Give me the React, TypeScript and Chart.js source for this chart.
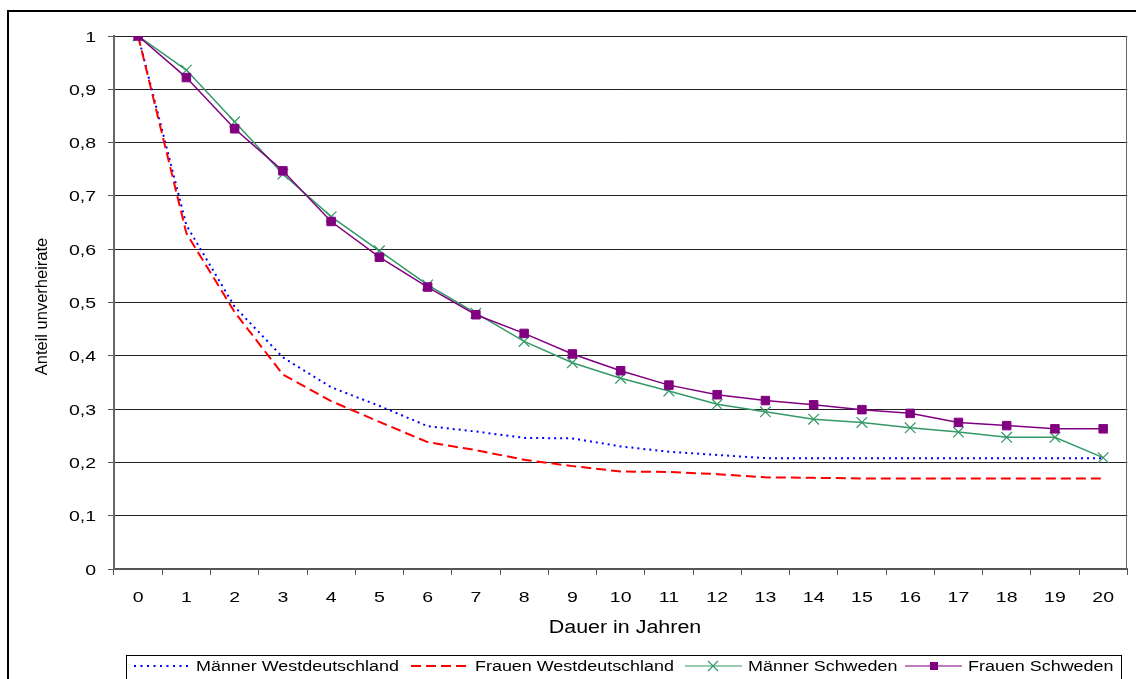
import React, { useEffect, useRef } from 'react';
import { Chart, registerables } from 'chart.js';

Chart.register(...registerables);

// ---------- DATA ----------
const categories = ['0', '1', '2', '3', '4', '5', '6', '7', '8', '9', '10', '11', '12', '13', '14', '15', '16', '17', '18', '19', '20'];
const yTickLabels = ['0', '0,1', '0,2', '0,3', '0,4', '0,5', '0,6', '0,7', '0,8', '0,9', '1'];

const maennerWest = [1, 0.645, 0.492, 0.397, 0.341, 0.306, 0.268, 0.258, 0.246, 0.245, 0.23, 0.22, 0.214, 0.208, 0.208, 0.208, 0.208, 0.208, 0.208, 0.208, 0.208];
const frauenWest = [1, 0.63, 0.482, 0.365, 0.315, 0.276, 0.238, 0.223, 0.205, 0.193, 0.183, 0.182, 0.178, 0.172, 0.171, 0.17, 0.17, 0.17, 0.17, 0.17, 0.17];
const maennerSchweden = [1, 0.936, 0.839, 0.741, 0.661, 0.597, 0.533, 0.48, 0.427, 0.387, 0.358, 0.334, 0.309, 0.295, 0.281, 0.275, 0.265, 0.257, 0.247, 0.247, 0.209];
const frauenSchweden = [1, 0.922, 0.826, 0.747, 0.652, 0.585, 0.529, 0.477, 0.442, 0.4035, 0.372, 0.345, 0.327, 0.316, 0.308, 0.299, 0.292, 0.275, 0.269, 0.263, 0.263];

const seriesNames = ['Männer Westdeutschland', 'Frauen Westdeutschland', 'Männer Schweden', 'Frauen Schweden'];
const xTitle = 'Dauer in Jahren';
const yTitle = 'Anteil unverheirate';

// ---------- STYLE ----------
const BLUE = '#0000ff';
const RED = '#ff0000';
const GREEN = '#339966';
const PURPLE = '#800080';
const FONT = '"Liberation Sans", Arial, sans-serif';

function stretchText(ctx: CanvasRenderingContext2D, txt: string, x: number, y: number, size: number, sx: number, align: CanvasTextAlign, rotate = 0) {
  ctx.save();
  ctx.translate(x, y);
  if (rotate) ctx.rotate(rotate);
  ctx.scale(sx, 1);
  ctx.font = `${size}px ${FONT}`;
  ctx.fillStyle = '#000';
  ctx.textAlign = align;
  ctx.textBaseline = 'alphabetic';
  ctx.fillText(txt, 0, 0);
  ctx.restore();
}

const decorPlugin = {
  id: 'decor',
  afterDraw(chart: any) {
    const ctx: CanvasRenderingContext2D = chart.ctx;
    const area = chart.chartArea;
    const xs = chart.scales.x;
    const ys = chart.scales.y;

    // outer frame (left and top visible)
    ctx.save();
    ctx.strokeStyle = '#000';
    ctx.lineWidth = 2;
    ctx.beginPath();
    ctx.moveTo(8, 700);
    ctx.lineTo(8, 11);
    ctx.lineTo(1140, 11);
    ctx.stroke();

    // right border of plot area
    ctx.strokeStyle = '#666';
    ctx.lineWidth = 1;
    ctx.beginPath();
    ctx.moveTo(Math.round(area.right) - 0.5, area.top);
    ctx.lineTo(Math.round(area.right) - 0.5, area.bottom);
    ctx.stroke();
    ctx.restore();

    // y tick labels
    ys.ticks.forEach((_t: any, i: number) => {
      const y = ys.getPixelForTick(i);
      stretchText(ctx, yTickLabels[i], 96, y + 5.5, 15, 1.3, 'right');
    });
    // x tick labels
    categories.forEach((c, i) => {
      const x = xs.getPixelForTick(i);
      stretchText(ctx, c, x, 602, 15, 1.3, 'center');
    });

    // axis titles
    stretchText(ctx, xTitle, 625, 633, 18, 1.19, 'center');
    stretchText(ctx, yTitle, 46.5, 306.5, 17, 0.97, 'center', -Math.PI / 2);

    // legend
    ctx.save();
    ctx.strokeStyle = '#000';
    ctx.lineWidth = 1;
    ctx.strokeRect(126.5, 655.5, 995, 40);
    const ly = 666;
    // blue dotted
    ctx.strokeStyle = BLUE;
    ctx.lineWidth = 2;
    ctx.setLineDash([2, 4.5]);
    ctx.beginPath(); ctx.moveTo(134, ly); ctx.lineTo(188, ly); ctx.stroke();
    // red dashed
    ctx.strokeStyle = RED;
    ctx.setLineDash([10, 5]);
    ctx.beginPath(); ctx.moveTo(411, ly); ctx.lineTo(467, ly); ctx.stroke();
    ctx.setLineDash([]);
    // green with X
    ctx.strokeStyle = GREEN;
    ctx.lineWidth = 1.2;
    ctx.beginPath(); ctx.moveTo(685, ly); ctx.lineTo(742, ly); ctx.stroke();
    ctx.beginPath();
    ctx.moveTo(708, ly - 5); ctx.lineTo(718, ly + 5);
    ctx.moveTo(708, ly + 5); ctx.lineTo(718, ly - 5);
    ctx.stroke();
    // purple with square
    ctx.strokeStyle = PURPLE;
    ctx.fillStyle = PURPLE;
    ctx.beginPath(); ctx.moveTo(905, ly); ctx.lineTo(962, ly); ctx.stroke();
    ctx.fillRect(930, ly - 4, 8, 8);
    ctx.restore();

    stretchText(ctx, seriesNames[0], 196, 671, 14, 1.28, 'left');
    stretchText(ctx, seriesNames[1], 475, 671, 14, 1.28, 'left');
    stretchText(ctx, seriesNames[2], 748, 671, 14, 1.28, 'left');
    stretchText(ctx, seriesNames[3], 968, 671, 14, 1.28, 'left');
  },
};

export default function App() {
  const ref = useRef<HTMLCanvasElement | null>(null);

  useEffect(() => {
    if (!ref.current) return;
    const chart = new Chart(ref.current, {
      type: 'line',
      data: {
        labels: categories,
        datasets: [
          {
            label: seriesNames[3],
            data: frauenSchweden,
            borderColor: PURPLE,
            backgroundColor: PURPLE,
            borderWidth: 1.5,
            pointStyle: 'rect',
            pointRadius: 6,
            pointBackgroundColor: PURPLE,
            pointBorderColor: PURPLE,
            pointBorderWidth: 1,
            tension: 0,
          },
          {
            label: seriesNames[2],
            data: maennerSchweden,
            borderColor: GREEN,
            backgroundColor: GREEN,
            borderWidth: 1.5,
            pointStyle: 'crossRot',
            pointRadius: 7.5,
            pointBorderColor: GREEN,
            pointBorderWidth: 1.2,
            tension: 0,
          },
          {
            label: seriesNames[1],
            data: frauenWest,
            borderColor: RED,
            backgroundColor: RED,
            borderWidth: 2,
            borderDash: [10, 5],
            pointRadius: 0,
            tension: 0,
          },
          {
            label: seriesNames[0],
            data: maennerWest,
            borderColor: BLUE,
            backgroundColor: BLUE,
            borderWidth: 2,
            borderDash: [2, 4],
            pointRadius: 0,
            tension: 0,
          },
        ],
      },
      options: {
        animation: false,
        responsive: false,
        devicePixelRatio: 1,
        layout: { padding: { top: 36, right: 4, left: 0, bottom: 0 } },
        plugins: {
          legend: { display: false },
          tooltip: { enabled: false },
          title: { display: false },
        },
        scales: {
          x: {
            type: 'category',
            offset: true,
            grid: {
              display: true,
              offset: true,
              drawOnChartArea: false,
              drawTicks: true,
              tickLength: 6,
              color: '#555',
              tickColor: '#555',
            },
            border: { display: true, color: '#555', width: 2 },
            ticks: { display: false },
            afterFit: (s: any) => { s.height = 110; },
          },
          y: {
            min: 0,
            max: 1,
            ticks: { stepSize: 0.1, display: false },
            grid: {
              color: '#222',
              lineWidth: 1,
              drawTicks: true,
              tickLength: 6,
              tickColor: '#555',
            },
            border: { display: true, color: '#666', width: 2 },
            afterFit: (s: any) => { s.width = 114; },
          },
        },
      },
      plugins: [decorPlugin],
    } as any);
    return () => chart.destroy();
  }, []);

  return (
    <div style={{ position: 'absolute', left: 0, top: 0, width: 1136, height: 679, background: '#fff' }}>
      <canvas ref={ref} width={1136} height={679} style={{ display: 'block' }} />
    </div>
  );
}
